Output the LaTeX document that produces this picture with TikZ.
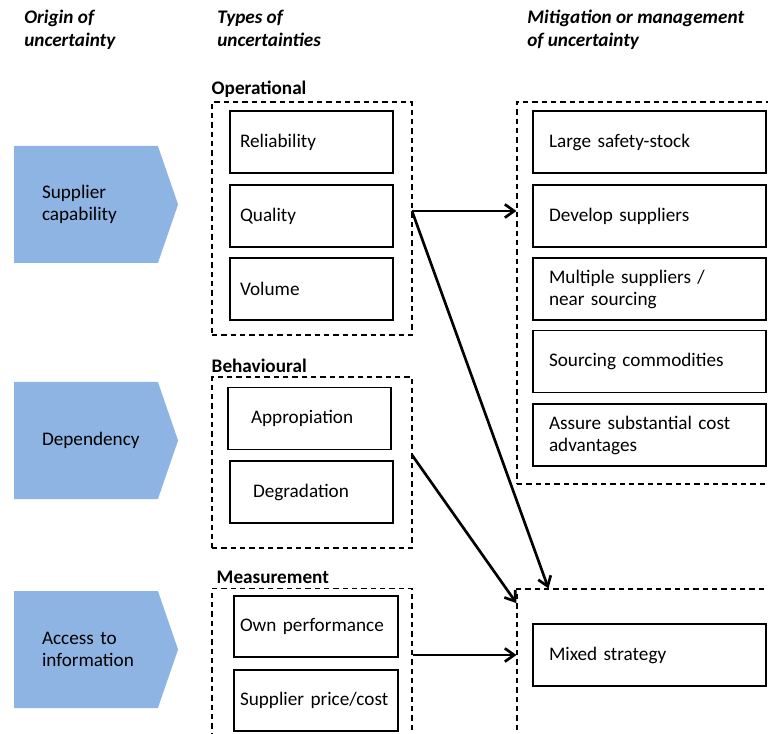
\documentclass[tikz,border=0pt]{standalone}
\usepackage{fontspec}
\setmainfont{Carlito}
\usetikzlibrary{arrows.meta,positioning,shapes.symbols}

\definecolor{chevblue}{HTML}{8EB4E3}

\begin{document}
\begin{tikzpicture}[x=0.75pt,y=-0.75pt,>={Straight Barb[length=7pt,width=10pt]},
 font=\fontsize{14.4}{16.5}\selectfont,
 every node/.style={inner sep=0pt},
 origin/.style={signal,signal to=east,signal pointer angle=142,fill=chevblue,
  minimum width=123pt,minimum height=87.75pt,text width=66pt,align=left},
 item/.style={draw,line width=1pt,minimum width=122.25pt,minimum height=46.5pt,
  text width=107.25pt,inner xsep=7.5pt,align=left},
 wide/.style={item,minimum width=174.75pt,text width=150.75pt,inner xsep=12pt},
 group/.style={draw,line width=0.8pt,dash pattern=on 4pt off 3pt},
 head/.style={font=\fontsize{14.4}{17.25}\selectfont\bfseries\itshape,align=left},
 grouphead/.style={font=\fontsize{14.4}{16.5}\selectfont\bfseries,inner xsep=0pt,inner ysep=3pt},
 link/.style={->,line width=2pt}]
\useasboundingbox (0,0) rectangle (768,734);

% column headings
\node[head,anchor=north west] (h1) at (24,10) {Origin of\\uncertainty};
\node[head,anchor=north west] (h2) at (217,10) {Types of\\uncertainties};
\node[head,anchor=north west] (h3) at (527,10) {Mitigation or management\\of uncertainty};

% origins
\node[origin] (sc) at (86,204.5) {Supplier\\capability};
\node[origin] (dep) at (86,440.5) {Dependency};
\node[origin] (acc) at (86,649.5) {Access to\\information};

% types of uncertainty
\node[group,minimum width=150pt,minimum height=174.75pt] (oper) at (312,218.5) {};
\node[grouphead,anchor=south west] at (oper.north west) {Operational};
\node[item] (rel) at (311.5,142) {Reliability};
\node[item] (qual) at (311.5,216) {Quality};
\node[item] (vol) at (311.5,289) {Volume};

\node[group,minimum width=150pt,minimum height=128.25pt] (behav) at (312,462.5) {};
\node[grouphead,anchor=south west] at (behav.north west) {Behavioural};
\node[item,text width=87.75pt,inner xsep=17.25pt] (approp) at (309.5,418.5) {Appropiation};
\node[item,text width=87.75pt,inner xsep=15pt] (degr) at (311.5,492) {Degradation};

\node[group,minimum width=150pt,minimum height=110pt] (meas) at (312,662) {};
\node[grouphead,anchor=south west,xshift=3.75pt] at (meas.north west) {Measurement};
\node[item,minimum width=123pt,text width=114pt,inner xsep=4.5pt,minimum height=45.75pt] (own) at (316,626.5) {Own performance};
\node[item,minimum width=123pt,text width=114pt,inner xsep=4.5pt,minimum height=45.75pt] (price) at (316,700.5) {Supplier price/cost};

% mitigation
\node[group,minimum width=193.5pt,minimum height=286.5pt] (mitig) at (646,293) {};
\node[wide] (stock) at (649.5,142) {Large safety-stock};
\node[wide] (dev) at (649.5,216) {Develop suppliers};
\node[wide] (multi) at (649.5,289) {Multiple suppliers /\\near sourcing};
\node[wide] (comm) at (649.5,361.5) {Sourcing commodities};
\node[wide] (cost) at (649.5,435) {Assure substantial cost\\advantages};

\node[group,minimum width=193.5pt,minimum height=113.25pt] (mixgrp) at (646,664.5) {};
\node[wide] (mixed) at (649.5,655) {Mixed strategy};

% links
\coordinate (qout) at (412,211);
\coordinate (dout) at (412,455);
\path[link]
 (qout) edge (qout -| mitig.west)
 (qout) edge ([xshift=24pt]mixgrp.north west)
 (dout) edge ([yshift=-11pt]mixgrp.north west)
 (meas.east |- mixed) edge (mixed -| mixgrp.west);
\end{tikzpicture}
\end{document}
